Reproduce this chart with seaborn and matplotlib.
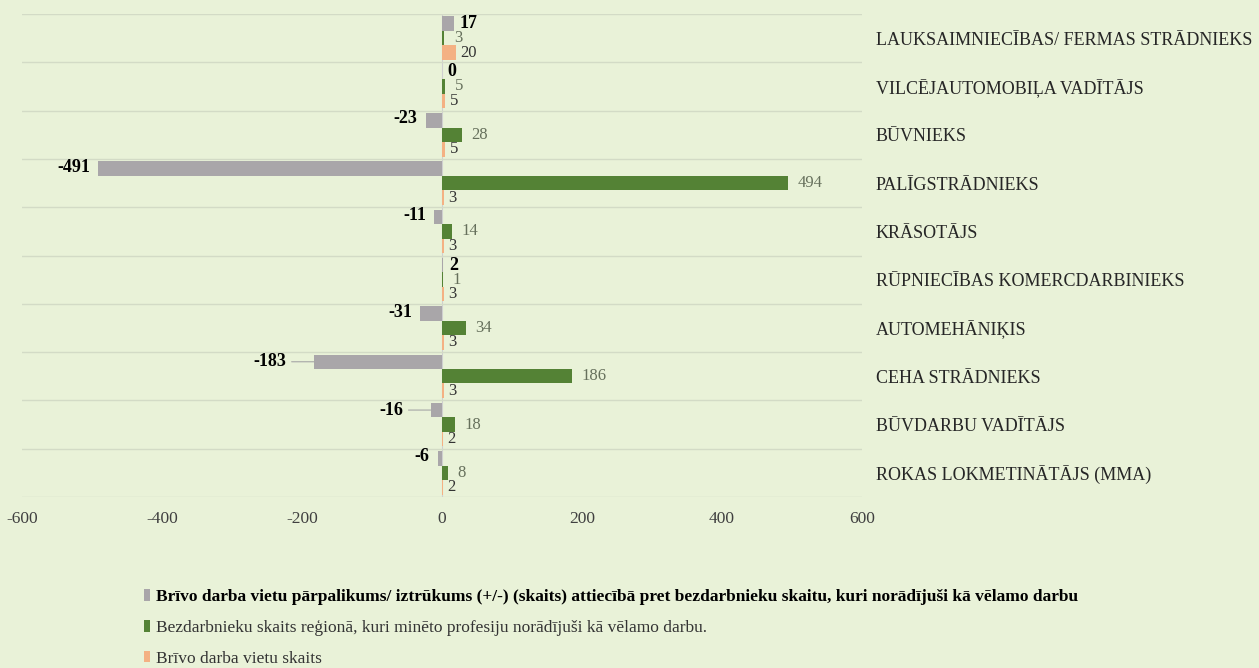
import pandas as pd
import matplotlib.pyplot as plt
import numpy as np
import seaborn as sns
from matplotlib.patches import Patch

# dati no attēla
profesijas = ['LAUKSAIMNIECĪBAS/ FERMAS STRĀDNIEKS', 'VILCĒJAUTOMOBIĻA VADĪTĀJS', 'BŪVNIEKS',
              'PALĪGSTRĀDNIEKS', 'KRĀSOTĀJS', 'RŪPNIECĪBAS KOMERCDARBINIEKS', 'AUTOMEHĀNIĶIS',
              'CEHA STRĀDNIEKS', 'BŪVDARBU VADĪTĀJS', 'ROKAS LOKMETINĀTĀJS (MMA)']
starpiba = [17, 0, -23, -491, -11, 2, -31, -183, -16, -6]
bezdarbnieki = [3, 5, 28, 494, 14, 1, 34, 186, 18, 8]
vakances = [20, 5, 5, 3, 3, 3, 3, 3, 2, 2]

serijas = ['Brīvo darba vietu pārpalikums/ iztrūkums (+/-) (skaits) attiecībā pret bezdarbnieku skaitu, kuri norādījuši kā vēlamo darbu',
           'Bezdarbnieku skaits reģionā, kuri minēto profesiju norādījuši kā vēlamo darbu.',
           'Brīvo darba vietu skaits']
xticks = [-600, -400, -200, 0, 200, 400, 600]
ar_liniju = ['CEHA STRĀDNIEKS', 'BŪVDARBU VADĪTĀJS']

krasas = ['#A9A6A9', '#548235', '#F4B183']
fons = '#E9F2D8'

df = pd.DataFrame({'prof': profesijas * 3,
                   'serija': [serijas[0]] * 10 + [serijas[1]] * 10 + [serijas[2]] * 10,
                   'vertiba': starpiba + bezdarbnieki + vakances})

plt.rcParams['font.family'] = ['Liberation Serif', 'DejaVu Serif']

fig = plt.figure(figsize=(12.59, 6.68), dpi=100)
fig.patch.set_facecolor(fons)
ax = fig.add_axes([0.0175, 0.256, 0.667, 0.723])
ax.set_facecolor(fons)

sns.barplot(data=df, y='prof', x='vertiba', hue='serija', orient='h',
            order=profesijas, hue_order=serijas, palette=krasas,
            width=0.9, saturation=1, legend=False, ax=ax)

ax.set_xlim(-600, 600)
ax.set_ylim(9.5, -0.5)
ax.set_xticks(xticks)
ax.set_xticklabels([str(t) for t in xticks], fontsize=12.5, color='#404040')
ax.yaxis.tick_right()
ax.tick_params(axis='y', length=0, pad=10, labelsize=13, labelcolor='#262626')
ax.tick_params(axis='x', length=0, pad=10)
ax.set_yticks(np.arange(-0.5, 10, 1), minor=True)
ax.tick_params(which='minor', length=0)
ax.grid(which='minor', axis='y', color='#D3DBC6', lw=1)
ax.grid(which='major', visible=False)
ax.axvline(0, color='#CFCFCF', lw=0.8, zorder=0)
ax.set_xlabel('')
ax.set_ylabel('')
for s in ax.spines.values():
    s.set_visible(False)

# vērtību etiķetes
label_stils = [dict(fontsize=13, fontweight='bold', color='black'),
               dict(fontsize=12, color='#66705C'),
               dict(fontsize=12, color='#333333')]
atstarpe = [4, 7, 3]
for i, cont in enumerate(ax.containers):
    vals = [starpiba, bezdarbnieki, vakances][i]
    for j, p in enumerate(cont.patches):
        v = vals[j]
        yc = p.get_y() + p.get_height() / 2
        if i == 0 and profesijas[j] in ar_liniju:
            ax.annotate(str(v), xy=(v, yc), xytext=(-20, 0), textcoords='offset points',
                        ha='right', va='center',
                        arrowprops=dict(arrowstyle='-', color='#A6A6A6', lw=0.8, shrinkA=2, shrinkB=0),
                        **label_stils[i])
        elif v < 0:
            ax.annotate(str(v), xy=(v, yc), xytext=(-6, 1), textcoords='offset points',
                        ha='right', va='center', **label_stils[i])
        else:
            ax.annotate(str(v), xy=(v, yc), xytext=(atstarpe[i], 0), textcoords='offset points',
                        ha='left', va='center', **label_stils[i])

handles = [Patch(facecolor=c, edgecolor='none') for c in krasas]
leg = fig.legend(handles, serijas, loc='upper left', bbox_to_anchor=(0.114, 0.118),
                 frameon=False, fontsize=12.5, handlelength=0.4, handleheight=0.65,
                 handletextpad=0.3, labelspacing=0.85, borderpad=0, borderaxespad=0)
leg.get_texts()[0].set_fontweight('bold')
for t in leg.get_texts()[1:]:
    t.set_color('#333333')

fig.savefig('out.png', dpi=100, facecolor=fons)
